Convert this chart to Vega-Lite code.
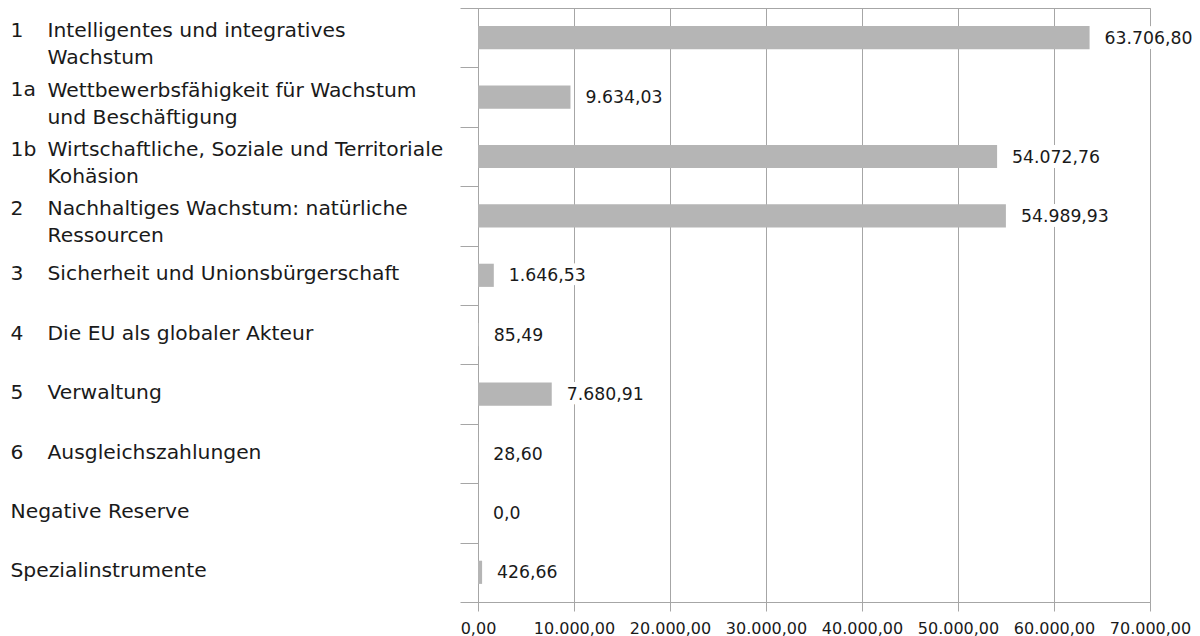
{
  "$schema": "https://vega.github.io/schema/vega-lite/v6.json",
  "width": 672,
  "height": 594,
  "autosize": {"type": "none"},
  "padding": {"left": 478, "top": 8, "right": 50, "bottom": 34},
  "background": "white",
  "data": {
    "values": [
      {"kategorie": "1|Intelligentes und integratives|Wachstum", "wert": 63706.80, "beschriftung": "63.706,80"},
      {"kategorie": "1a|Wettbewerbsfähigkeit für Wachstum|und Beschäftigung", "wert": 9634.03, "beschriftung": "9.634,03"},
      {"kategorie": "1b|Wirtschaftliche, Soziale und Territoriale|Kohäsion", "wert": 54072.76, "beschriftung": "54.072,76"},
      {"kategorie": "2|Nachhaltiges Wachstum: natürliche|Ressourcen", "wert": 54989.93, "beschriftung": "54.989,93"},
      {"kategorie": "3|Sicherheit und Unionsbürgerschaft", "wert": 1646.53, "beschriftung": "1.646,53"},
      {"kategorie": "4|Die EU als globaler Akteur", "wert": 85.49, "beschriftung": "85,49"},
      {"kategorie": "5|Verwaltung", "wert": 7680.91, "beschriftung": "7.680,91"},
      {"kategorie": "6|Ausgleichszahlungen", "wert": 28.60, "beschriftung": "28,60"},
      {"kategorie": "Negative Reserve", "wert": 0, "beschriftung": "0,0"},
      {"kategorie": "Spezialinstrumente", "wert": 426.66, "beschriftung": "426,66"}
    ]
  },
  "layer": [
    {
      "mark": {"type": "bar", "color": "#b5b5b5", "height": {"band": 0.39}},
      "encoding": {
        "y": {
          "field": "kategorie", "type": "nominal", "sort": null,
          "scale": {"paddingInner": 0, "paddingOuter": 0},
          "axis": {
            "orient": "left", "title": null, "offset": 0,
            "tickBand": "extent", "ticks": true, "tickSize": 18, "tickColor": "#a6a6a6", "tickWidth": 1,
            "domain": true, "domainColor": "#a6a6a6", "domainWidth": 1,
            "labelAlign": "left", "labelBaseline": "middle", "labelPadding": 413, "labelOffset": -7,
            "labelLimit": 0, "labelFont": "DejaVu Sans", "labelFontSize": 20.3, "labelLineHeight": 27,
            "labelColor": "#1a1a1a",
            "labelExpr": "length(split(datum.value, '|')) > 2 ? slice(split(datum.value, '|'), 1) : ''"
          }
        },
        "x": {
          "field": "wert", "type": "quantitative",
          "scale": {"domain": [0, 70000], "nice": false},
          "axis": {
            "title": null, "values": [0, 10000, 20000, 30000, 40000, 50000, 60000, 70000],
            "format": ",.2f", "grid": true, "gridColor": "#a6a6a6", "gridWidth": 1,
            "domain": true, "domainColor": "#a6a6a6", "ticks": true, "tickSize": 9, "tickColor": "#a6a6a6",
            "labelFont": "DejaVu Sans", "labelFontSize": 16, "labelColor": "#1a1a1a", "labelPadding": 9,
            "labelOverlap": false, "labelFlush": false
          }
        }
      }
    },
    {
      "mark": {"type": "text", "align": "left", "baseline": "middle", "dx": 15, "dy": 1, "font": "DejaVu Sans", "fontSize": 17.3, "stroke": "white", "strokeWidth": 10, "strokeJoin": "round", "fill": "white"},
      "encoding": {
        "y": {
          "field": "kategorie", "type": "nominal", "sort": null,
          "scale": {"paddingInner": 0, "paddingOuter": 0},
          "axis": {
            "orient": "left", "title": null, "offset": 0, "ticks": false, "tickSize": 0, "domain": false,
            "labelAlign": "left", "labelBaseline": "middle", "labelPadding": 431, "labelOffset": -1,
            "labelLimit": 0, "labelFont": "DejaVu Sans", "labelFontSize": 20.3, "labelColor": "#1a1a1a",
            "labelExpr": "length(split(datum.value, '|')) == 2 ? split(datum.value, '|')[1] : ''"
          }
        },
        "x": {
          "field": "wert", "type": "quantitative",
          "scale": {"domain": [0, 70000], "nice": false},
          "axis": {
            "title": null, "values": [0, 10000, 20000, 30000, 40000, 50000, 60000, 70000],
            "format": ",.2f", "grid": true, "gridColor": "#a6a6a6", "gridWidth": 1,
            "domain": true, "domainColor": "#a6a6a6", "ticks": true, "tickSize": 9, "tickColor": "#a6a6a6",
            "labelFont": "DejaVu Sans", "labelFontSize": 16, "labelColor": "#1a1a1a", "labelPadding": 9,
            "labelOverlap": false, "labelFlush": false
          }
        },
        "text": {"field": "beschriftung"}
      }
    },
    {
      "mark": {"type": "text", "align": "left", "baseline": "middle", "dx": 15, "dy": 1, "font": "DejaVu Sans", "fontSize": 17.3, "color": "#1a1a1a"},
      "encoding": {
        "y": {
          "field": "kategorie", "type": "nominal", "sort": null,
          "scale": {"paddingInner": 0, "paddingOuter": 0},
          "axis": {
            "orient": "left", "title": null, "offset": 0, "ticks": false, "tickSize": 0, "domain": false,
            "labelAlign": "left", "labelBaseline": "middle", "labelPadding": 468, "labelOffset": -7,
            "labelLimit": 0, "labelFont": "DejaVu Sans", "labelFontSize": 20.3, "labelColor": "#1a1a1a",
            "labelExpr": "length(split(datum.value, '|')) > 2 ? split(datum.value, '|')[0] : ''"
          }
        },
        "x": {
          "field": "wert", "type": "quantitative",
          "scale": {"domain": [0, 70000], "nice": false},
          "axis": {
            "title": null, "values": [0, 10000, 20000, 30000, 40000, 50000, 60000, 70000],
            "format": ",.2f", "grid": true, "gridColor": "#a6a6a6", "gridWidth": 1,
            "domain": true, "domainColor": "#a6a6a6", "ticks": true, "tickSize": 9, "tickColor": "#a6a6a6",
            "labelFont": "DejaVu Sans", "labelFontSize": 16, "labelColor": "#1a1a1a", "labelPadding": 9,
            "labelOverlap": false, "labelFlush": false
          }
        },
        "text": {"field": "beschriftung"}
      }
    },
    {
      "mark": {"type": "text", "text": ""},
      "encoding": {
        "y": {
          "field": "kategorie", "type": "nominal", "sort": null,
          "scale": {"paddingInner": 0, "paddingOuter": 0},
          "axis": {
            "orient": "left", "title": null, "offset": 0, "ticks": false, "tickSize": 0, "domain": false,
            "labelAlign": "left", "labelBaseline": "middle", "labelPadding": 468, "labelOffset": -1,
            "labelLimit": 0, "labelFont": "DejaVu Sans", "labelFontSize": 20.3, "labelColor": "#1a1a1a",
            "labelExpr": "length(split(datum.value, '|')) <= 2 ? split(datum.value, '|')[0] : ''"
          }
        },
        "x": {
          "field": "wert", "type": "quantitative",
          "scale": {"domain": [0, 70000], "nice": false},
          "axis": {
            "title": null, "values": [0, 10000, 20000, 30000, 40000, 50000, 60000, 70000],
            "format": ",.2f", "grid": true, "gridColor": "#a6a6a6", "gridWidth": 1,
            "domain": true, "domainColor": "#a6a6a6", "ticks": true, "tickSize": 9, "tickColor": "#a6a6a6",
            "labelFont": "DejaVu Sans", "labelFontSize": 16, "labelColor": "#1a1a1a", "labelPadding": 9,
            "labelOverlap": false, "labelFlush": false
          }
        }
      }
    }
  ],
  "resolve": {"axis": {"y": "independent"}},
  "config": {
    "view": {"stroke": "#a6a6a6", "strokeWidth": 1},
    "locale": {"number": {"decimal": ",", "thousands": ".", "grouping": [3], "currency": ["", " €"]}}
  }
}
